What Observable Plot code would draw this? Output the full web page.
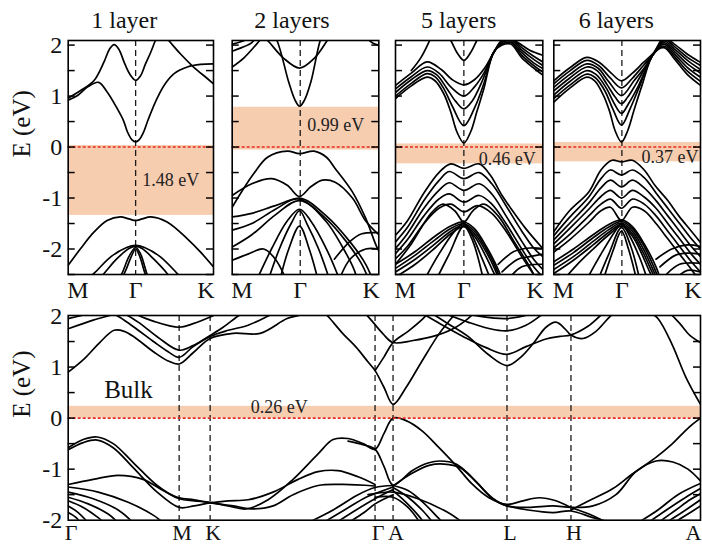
<!DOCTYPE html>
<html><head><meta charset="utf-8">
<script src="https://cdn.jsdelivr.net/npm/d3@7"></script>
<script src="https://cdn.jsdelivr.net/npm/@observablehq/plot@0.6"></script>
<style>
html,body{margin:0;padding:0;background:#fff;}
#chart{position:relative;width:702px;height:546px;overflow:hidden;background:#fff;}
#chart svg{position:absolute;left:0;top:0;}
</style></head><body><div id="chart"></div>
<script>
// ---------- data ----------
const layerTitles = ["1 layer", "2 layers", "5 layers", "6 layers"];
const gapLabels = ["1.48 eV", "0.99 eV", "0.46 eV", "0.37 eV"];
const bulkGapLabel = "0.26 eV";
const gapRanges = [[-1.34, 0.03], [-0.06, 0.78], [-0.33, 0.06], [-0.29, 0.09]];
const bulkGapRange = [0, 0.23];
const slabKPoints = [{k: 0, name: "M"}, {k: 0.866, name: "Γ"}, {k: 1.866, name: "K"}];
const bulkKPoints = [
  {k: 0, name: "Γ"}, {k: 111, name: "M"}, {k: 142, name: "K"}, {k: 307, name: "Γ"},
  {k: 325, name: "A"}, {k: 439, name: "L"}, {k: 503, name: "H"}, {k: 632.6, name: "A"}
];
const energyTicks = [-2, -1, 0, 1, 2];
const minorTicksSlab = [-2.5, -2, -1.5, -1, -0.5, 0, 0.5, 1, 1.5, 2];
const minorTicksBulk = [-1.5, -1, -0.5, 0, 0.5, 1, 1.5];

const layer1Bands = [
  [[0,0.92],[0.12,1.01],[0.25,1.18],[0.39,1.27],[0.5,1.08],[0.62,0.78],[0.71,0.52],[0.76,0.3],[0.82,0.14],[0.866,0.1],[0.91,0.14],[0.97,0.3],[1.03,0.55],[1.14,0.95],[1.25,1.25],[1.36,1.44],[1.53,1.57],[1.7,1.62],[1.866,1.63]],
  [[0,0.96],[0.16,1.11],[0.33,1.3],[0.46,1.67],[0.53,1.92],[0.59,2.01],[0.65,1.92],[0.73,1.62],[0.8,1.41],[0.866,1.31],[0.93,1.4],[0.99,1.62],[1.06,1.86],[1.12,2.09],[1.16,2.2]],
  [[1.22,2.2],[1.29,2.09],[1.44,1.83],[1.61,1.57],[1.79,1.34],[1.866,1.24]],
  [[0,-2.32],[0.16,-1.99],[0.33,-1.67],[0.5,-1.44],[0.67,-1.37],[0.78,-1.41],[0.866,-1.44],[0.95,-1.41],[1.06,-1.37],[1.27,-1.47],[1.53,-1.8],[1.7,-2.06],[1.866,-2.35]],
  [[0.2,-2.65],[0.33,-2.48],[0.55,-2.15],[0.75,-1.97],[0.866,-1.93],[0.98,-1.97],[1.18,-2.15],[1.4,-2.48],[1.5,-2.65]],
  [[0.35,-2.65],[0.46,-2.48],[0.62,-2.2],[0.78,-1.99],[0.866,-1.95],[0.95,-1.99],[1.1,-2.2],[1.27,-2.48],[1.35,-2.65]],
  [[0.62,-2.65],[0.69,-2.48],[0.78,-2.15],[0.866,-1.97],[0.93,-2.1],[1.01,-2.48],[1.06,-2.65]],
  [[0.66,-2.65],[0.73,-2.45],[0.81,-2.15],[0.866,-2.0],[0.92,-2.15],[0.98,-2.45],[1.03,-2.65]]
];

const layer2Bands = [
  [[0.45,2.4],[0.57,2.09],[0.72,1.27],[0.8,0.92],[0.857,0.8],[0.92,0.92],[1.0,1.27],[1.12,2.09],[1.2,2.4]],
  [[0.3,2.3],[0.45,2.09],[0.65,1.75],[0.857,1.55],[1.05,1.75],[1.21,2.09],[1.3,2.3]],
  [[0,1.57],[0.15,1.75],[0.3,2.0],[0.38,2.15]],
  [[0,1.88],[0.12,1.95],[0.25,2.05],[0.3,2.15]],
  [[0,2.02],[0.1,2.06],[0.2,2.12]],
  [[1.7,2.15],[1.8,2.03],[1.866,2.0]],
  [[0,-1.18],[0.106,-0.91],[0.275,-0.52],[0.45,-0.2],[0.7,-0.08],[0.857,-0.13],[1.04,-0.08],[1.2,-0.2],[1.31,-0.42],[1.53,-0.88],[1.7,-1.4],[1.85,-1.99],[1.9,-2.1]],
  [[0,-0.95],[0.25,-0.72],[0.5,-0.62],[0.7,-0.75],[0.857,-0.97],[1.0,-0.78],[1.15,-0.65],[1.31,-0.69],[1.53,-1.0],[1.7,-1.45],[1.866,-1.72]],
  [[0,-1.63],[0.25,-1.5],[0.55,-1.22],[0.857,-1.0],[1.19,-1.34],[1.5,-1.86],[1.7,-2.3],[1.8,-2.65]],
  [[0,-1.96],[0.25,-1.72],[0.55,-1.33],[0.857,-1.05],[1.19,-1.4],[1.45,-1.85],[1.65,-2.3],[1.75,-2.65]],
  [[0,-1.37],[0.25,-1.3],[0.55,-1.15],[0.857,-1.02],[1.19,-1.45],[1.4,-1.95],[1.55,-2.4],[1.6,-2.65]],
  [[0.3,-2.65],[0.5,-2.0],[0.7,-1.45],[0.857,-1.22],[1.0,-1.45],[1.2,-2.0],[1.38,-2.65]],
  [[0.45,-2.65],[0.6,-2.0],[0.75,-1.5],[0.857,-1.25],[0.95,-1.5],[1.1,-2.0],[1.25,-2.65]],
  [[0.6,-2.65],[0.72,-2.0],[0.857,-1.55],[0.98,-2.0],[1.1,-2.65]],
  [[0,-2.22],[0.2,-2.1],[0.4,-2.0],[0.55,-2.2],[0.7,-2.65]],
  [[1.3,-2.2],[1.5,-1.85],[1.65,-1.7],[1.866,-1.68]],
  [[1.35,-2.65],[1.5,-2.2],[1.7,-2.0],[1.866,-2.0]]
];

const layer5Bands = [
  [[0,0.95],[0.2,1.2],[0.4,1.37],[0.5,1.3],[0.61,1.05],[0.7,0.69],[0.78,0.29],[0.866,0.08],[0.95,0.29],[1.03,0.69],[1.12,1.15],[1.245,1.86],[1.35,2.0],[1.46,2.02],[1.6,1.75],[1.75,1.55],[1.866,1.41]],
  [[0,1.0],[0.2,1.25],[0.4,1.44],[0.5,1.38],[0.61,1.15],[0.72,0.8],[0.866,0.42],[1.01,0.8],[1.12,1.25],[1.245,1.86],[1.35,2.02],[1.46,2.05],[1.6,1.8],[1.75,1.6],[1.866,1.47]],
  [[0,1.07],[0.2,1.32],[0.4,1.5],[0.52,1.42],[0.65,1.15],[0.76,0.9],[0.866,0.75],[0.97,0.9],[1.1,1.3],[1.245,1.86],[1.35,2.05],[1.46,2.08],[1.6,1.85],[1.75,1.65],[1.866,1.54]],
  [[0,1.14],[0.2,1.38],[0.4,1.57],[0.55,1.45],[0.7,1.18],[0.866,1.0],[1.0,1.18],[1.12,1.45],[1.245,1.86],[1.35,2.08],[1.46,2.12],[1.6,1.9],[1.75,1.72],[1.866,1.6]],
  [[0,1.21],[0.2,1.45],[0.4,1.67],[0.58,1.52],[0.72,1.32],[0.866,1.22],[1.0,1.32],[1.13,1.55],[1.245,1.86],[1.35,2.1],[1.46,2.15],[1.6,1.95],[1.75,1.78],[1.866,1.67]],
  [[0.6,2.3],[0.7,2.09],[0.78,1.85],[0.866,1.7],[0.95,1.85],[1.03,2.09],[1.1,2.3]],
  [[0.2,1.5],[0.32,1.75],[0.42,2.05],[0.46,2.2]],
  [[1.4,2.15],[1.55,2.05],[1.7,1.9],[1.866,1.8]],
  [[0,-1.73],[0.15,-1.45],[0.36,-0.9],[0.55,-0.5],[0.7,-0.33],[0.866,-0.42],[1.06,-0.33],[1.2,-0.55],[1.35,-0.95],[1.46,-1.2],[1.65,-1.6],[1.866,-1.99]],
  [[0,-1.86],[0.15,-1.58],[0.36,-1.05],[0.55,-0.66],[0.68,-0.48],[0.866,-0.62],[1.06,-0.5],[1.22,-0.72],[1.4,-1.15],[1.6,-1.65],[1.75,-1.98],[1.866,-2.15]],
  [[0,-1.99],[0.15,-1.7],[0.36,-1.2],[0.55,-0.85],[0.68,-0.7],[0.866,-0.85],[1.06,-0.72],[1.22,-0.92],[1.4,-1.35],[1.6,-1.85],[1.75,-2.2],[1.866,-2.4]],
  [[0,-2.09],[0.15,-1.82],[0.36,-1.35],[0.55,-1.02],[0.68,-0.92],[0.866,-1.08],[1.06,-0.95],[1.22,-1.12],[1.4,-1.5],[1.6,-2.0],[1.75,-2.35],[1.866,-2.55]],
  [[0,-2.19],[0.15,-1.95],[0.36,-1.5],[0.55,-1.2],[0.7,-1.12],[0.866,-1.27],[1.04,-1.15],[1.22,-1.3],[1.4,-1.65],[1.6,-2.15],[1.75,-2.5],[1.85,-2.7]],
  [[0,-2.3],[0.2,-1.9],[0.45,-1.3],[0.6,-1.12],[0.75,-1.25],[0.866,-1.47],[0.98,-1.25],[1.12,-1.12],[1.3,-1.35],[1.5,-1.85],[1.7,-2.35],[1.8,-2.65]],
  [[0,-2.3],[0.25,-2.05],[0.5,-1.75],[0.7,-1.55],[0.866,-1.47],[1.0,-1.6],[1.15,-1.95],[1.3,-2.4],[1.36,-2.65]],
  [[0,-2.38],[0.25,-2.12],[0.5,-1.82],[0.7,-1.6],[0.866,-1.5],[1.0,-1.65],[1.15,-2.0],[1.28,-2.4],[1.34,-2.65]],
  [[0,-2.45],[0.25,-2.2],[0.5,-1.9],[0.7,-1.65],[0.866,-1.53],[1.0,-1.7],[1.15,-2.06],[1.26,-2.4],[1.32,-2.65]],
  [[0,-2.55],[0.25,-2.3],[0.5,-1.98],[0.7,-1.7],[0.866,-1.56],[1.0,-1.75],[1.13,-2.1],[1.24,-2.45],[1.3,-2.65]],
  [[0.35,-2.65],[0.55,-2.1],[0.75,-1.65],[0.866,-1.5],[0.96,-1.7],[1.1,-2.2],[1.22,-2.65]],
  [[0.5,-2.65],[0.68,-2.1],[0.866,-1.55],[0.98,-1.85],[1.12,-2.65]],
  [[1.3,-2.3],[1.5,-2.05],[1.7,-1.98],[1.866,-1.99]],
  [[1.35,-2.45],[1.55,-2.2],[1.7,-2.15],[1.866,-2.1]],
  [[1.4,-2.65],[1.6,-2.35],[1.866,-2.3]]
];

const layer6Bands = [
  [[0,0.88],[0.2,1.15],[0.42,1.37],[0.52,1.3],[0.63,1.02],[0.71,0.7],[0.78,0.32],[0.861,0.1],[0.94,0.32],[1.02,0.72],[1.12,1.2],[1.27,1.83],[1.4,1.95],[1.55,1.7],[1.7,1.42],[1.866,1.21]],
  [[0,0.95],[0.2,1.21],[0.42,1.43],[0.53,1.36],[0.65,1.1],[0.75,0.75],[0.861,0.43],[0.97,0.75],[1.08,1.15],[1.27,1.83],[1.4,1.98],[1.55,1.75],[1.7,1.49],[1.866,1.29]],
  [[0,1.02],[0.2,1.28],[0.42,1.5],[0.54,1.42],[0.67,1.15],[0.77,0.85],[0.861,0.66],[0.95,0.85],[1.06,1.15],[1.27,1.83],[1.4,2.02],[1.55,1.8],[1.7,1.56],[1.866,1.37]],
  [[0,1.1],[0.2,1.35],[0.42,1.57],[0.55,1.5],[0.68,1.22],[0.78,0.98],[0.861,0.85],[0.94,0.98],[1.05,1.25],[1.27,1.83],[1.4,2.05],[1.55,1.85],[1.7,1.63],[1.866,1.45]],
  [[0,1.17],[0.2,1.42],[0.42,1.63],[0.56,1.55],[0.7,1.28],[0.861,1.01],[1.02,1.3],[1.15,1.55],[1.27,1.83],[1.4,2.08],[1.55,1.9],[1.7,1.7],[1.866,1.52]],
  [[0,1.24],[0.2,1.49],[0.42,1.7],[0.57,1.6],[0.72,1.35],[0.861,1.16],[1.0,1.35],[1.14,1.6],[1.27,1.83],[1.4,2.11],[1.55,1.95],[1.7,1.76],[1.866,1.6]],
  [[0,1.3],[0.2,1.55],[0.42,1.76],[0.58,1.66],[0.73,1.45],[0.861,1.3],[1.0,1.45],[1.14,1.66],[1.27,1.85],[1.4,2.14],[1.55,2.0],[1.7,1.82],[1.866,1.66]],
  [[0,-1.66],[0.2,-1.25],[0.445,-0.88],[0.6,-0.45],[0.74,-0.26],[0.861,-0.29],[1.0,-0.26],[1.15,-0.45],[1.29,-0.76],[1.45,-1.05],[1.59,-1.35],[1.75,-1.65],[1.866,-1.87]],
  [[0,-1.74],[0.2,-1.38],[0.445,-0.98],[0.6,-0.62],[0.72,-0.45],[0.861,-0.55],[1.0,-0.45],[1.15,-0.6],[1.3,-0.9],[1.45,-1.2],[1.6,-1.5],[1.75,-1.8],[1.866,-2.0]],
  [[0,-1.82],[0.2,-1.5],[0.445,-1.1],[0.6,-0.8],[0.72,-0.65],[0.861,-0.78],[1.0,-0.65],[1.15,-0.8],[1.3,-1.05],[1.45,-1.35],[1.6,-1.65],[1.75,-1.95],[1.866,-2.15]],
  [[0,-1.9],[0.2,-1.6],[0.445,-1.22],[0.6,-0.97],[0.72,-0.85],[0.861,-1.0],[1.0,-0.85],[1.15,-0.98],[1.3,-1.2],[1.45,-1.5],[1.6,-1.8],[1.75,-2.1],[1.866,-2.3]],
  [[0,-1.98],[0.2,-1.72],[0.445,-1.35],[0.6,-1.12],[0.72,-1.02],[0.861,-1.2],[1.0,-1.02],[1.15,-1.12],[1.3,-1.35],[1.45,-1.65],[1.6,-1.95],[1.75,-2.25],[1.866,-2.45]],
  [[0,-2.06],[0.2,-1.82],[0.445,-1.48],[0.6,-1.25],[0.72,-1.18],[0.861,-1.44],[1.0,-1.18],[1.15,-1.25],[1.3,-1.5],[1.45,-1.8],[1.6,-2.1],[1.75,-2.4],[1.866,-2.65]],
  [[0,-2.25],[0.25,-2.0],[0.5,-1.72],[0.7,-1.52],[0.861,-1.43],[1.0,-1.56],[1.15,-1.9],[1.3,-2.35],[1.37,-2.65]],
  [[0,-2.32],[0.25,-2.07],[0.5,-1.78],[0.7,-1.57],[0.861,-1.46],[1.0,-1.6],[1.15,-1.95],[1.28,-2.38],[1.35,-2.65]],
  [[0,-2.4],[0.25,-2.15],[0.5,-1.85],[0.7,-1.62],[0.861,-1.49],[1.0,-1.65],[1.14,-2.0],[1.26,-2.4],[1.33,-2.65]],
  [[0,-2.48],[0.25,-2.22],[0.5,-1.92],[0.7,-1.67],[0.861,-1.52],[1.0,-1.7],[1.13,-2.05],[1.24,-2.42],[1.31,-2.65]],
  [[0.1,-2.65],[0.3,-2.3],[0.5,-2.0],[0.7,-1.72],[0.861,-1.55],[1.0,-1.75],[1.12,-2.1],[1.22,-2.45],[1.29,-2.65]],
  [[0.4,-2.65],[0.6,-2.1],[0.78,-1.65],[0.861,-1.5],[0.95,-1.7],[1.1,-2.2],[1.2,-2.65]],
  [[0.55,-2.65],[0.7,-2.1],[0.861,-1.58],[0.98,-1.95],[1.1,-2.65]],
  [[0.62,-2.65],[0.75,-2.05],[0.861,-1.65],[0.95,-2.0],[1.06,-2.65]],
  [[1.3,-2.2],[1.5,-2.0],[1.7,-1.92],[1.866,-1.95]],
  [[1.35,-2.35],[1.55,-2.12],[1.7,-2.08],[1.866,-2.1]],
  [[1.4,-2.55],[1.6,-2.3],[1.866,-2.28]],
  [[1.5,-2.65],[1.7,-2.42],[1.866,-2.45]]
];

const bulkBands = [
  [[0,0.9],[16,1.16],[32,1.49],[46,1.72],[56,1.7],[66,1.59],[86,1.29],[100,1.12],[111,1.06],[125,1.28],[142,1.56],[165,1.66],[192,1.66],[219,1.95],[232,2.02],[240,2.1]],
  [[40,2.1],[52,1.97],[66,1.78],[86,1.49],[100,1.3],[111,1.19],[125,1.4],[142,1.6],[160,1.72],[180,1.82],[200,2.0],[210,2.1]],
  [[50,2.12],[70,1.88],[90,1.58],[111,1.33],[125,1.42],[142,1.62],[155,1.78],[170,2.0],[178,2.1]],
  [[60,2.1],[85,1.9],[111,1.78],[125,1.85],[142,1.98],[155,2.1]],
  [[0,1.75],[25,1.92],[45,2.03],[55,2.1]],
  [[0,1.95],[15,2.02],[25,2.1]],
  [[255,2.1],[261,1.97],[275,1.65],[288,1.39],[300,1.1],[307,0.93],[316,0.6],[325,0.27],[338,0.6],[354,1.12],[371,1.65],[384,1.97],[390,2.1]],
  [[307,0.93],[316,1.2],[325,1.48],[340,1.7],[355,1.95],[362,2.1]],
  [[295,2.1],[304,1.9],[315,1.65],[325,1.48],[345,1.52],[365,1.6],[385,1.75],[400,1.95],[408,2.1]],
  [[360,2.1],[380,1.85],[400,1.6],[420,1.25],[439,1.03],[452,1.18],[466,1.48],[478,1.78],[488,1.88],[497,1.75],[503,1.63],[515,1.56],[528,1.7],[540,1.95],[548,2.1]],
  [[350,2.1],[372,1.85],[395,1.6],[418,1.38],[439,1.25],[458,1.4],[478,1.55],[492,1.6],[503,1.63],[520,1.8],[532,2.0],[538,2.1]],
  [[370,2.1],[400,1.88],[420,1.76],[439,1.71],[458,1.82],[472,2.0],[478,2.1]],
  [[380,2.12],[410,2.0],[439,1.95],[465,2.05],[475,2.12]],
  [[580,2.1],[590,1.95],[604,1.45],[618,0.8],[632.6,0.27]],
  [[600,2.1],[612,1.85],[622,1.62],[632.6,1.48]],
  [[0,-0.58],[15,-0.42],[29,-0.37],[45,-0.5],[65,-0.87],[89,-1.32],[111,-1.58],[126,-1.62],[142,-1.65],[160,-1.72],[178,-1.78],[200,-1.6],[225,-1.2],[250,-0.7],[265,-0.42],[280,-0.4],[295,-0.5],[307,-0.61],[316,-0.3],[325,0],[338,-0.05],[354,-0.25],[371,-0.58],[388,-0.93],[404,-1.29],[421,-1.56],[439,-1.69],[455,-1.62],[471,-1.56],[488,-1.62],[503,-1.75],[521,-1.88],[540,-2.05],[548,-2.1]],
  [[280,-0.45],[295,-0.52],[307,-0.61],[316,-0.95],[325,-1.31],[344,-1.03],[360,-0.88],[372,-0.84],[388,-0.9],[404,-1.16],[424,-1.56],[439,-1.72],[460,-1.75],[485,-1.72],[503,-1.75],[525,-1.72],[548,-1.5],[568,-1.05],[588,-0.84],[605,-0.86],[620,-1.0],[632.6,-1.23]],
  [[0,-0.62],[15,-0.48],[29,-0.43],[45,-0.58],[65,-0.97],[89,-1.45],[111,-1.75],[126,-1.72],[142,-1.66],[160,-1.62],[180,-1.6],[205,-1.45],[230,-1.2],[250,-1.05],[270,-1.03],[290,-1.15],[307,-1.3]],
  [[0,-1.3],[25,-1.2],[50,-1.12],[75,-1.2],[95,-1.42],[111,-1.56],[126,-1.6],[142,-1.66],[165,-1.72],[185,-1.78],[205,-1.72],[225,-1.5],[250,-1.32],[275,-1.3],[307,-1.33]],
  [[503,-1.8],[521,-1.62],[545,-1.38],[564,-1.1],[588,-0.77],[604,-0.51],[621,-0.18],[632.6,0]],
  [[325,-1.33],[344,-1.08],[362,-0.92],[376,-0.9],[392,-0.97],[408,-1.25],[426,-1.6],[439,-1.72]],
  [[439,-1.72],[460,-1.8],[485,-1.85],[503,-1.82],[525,-1.95],[545,-2.05],[560,-2.1]],
  [[0,-1.35],[30,-1.45],[60,-1.65],[85,-1.9],[95,-2.05]],
  [[0,-1.45],[25,-1.58],[50,-1.8],[65,-2.05]],
  [[0,-1.55],[20,-1.68],[40,-1.88],[50,-2.05]],
  [[0,-1.62],[15,-1.75],[30,-1.95],[36,-2.05]],
  [[0,-1.72],[10,-1.85],[20,-2.05]],
  [[0,-1.85],[8,-1.95],[12,-2.05]],
  [[240,-2.05],[265,-1.8],[290,-1.5],[307,-1.36],[325,-1.32]],
  [[255,-2.05],[278,-1.78],[298,-1.55],[307,-1.48],[325,-1.35]],
  [[268,-2.05],[288,-1.8],[307,-1.58],[325,-1.4]],
  [[280,-2.05],[296,-1.85],[307,-1.68],[325,-1.5]],
  [[325,-1.32],[340,-1.42],[355,-1.65],[370,-1.95],[375,-2.05]],
  [[325,-1.36],[340,-1.55],[355,-1.82],[365,-2.05]],
  [[325,-1.42],[338,-1.65],[350,-1.9],[356,-2.05]],
  [[307,-1.55],[325,-1.55],[340,-1.75],[352,-2.05]],
  [[300,-1.5],[325,-1.45],[350,-1.58],[380,-1.85],[395,-2.05]],
  [[570,-2.05],[590,-1.8],[610,-1.5],[632.6,-1.28]],
  [[580,-2.05],[600,-1.78],[618,-1.55],[632.6,-1.38]],
  [[590,-2.05],[608,-1.8],[622,-1.6],[632.6,-1.48]],
  [[598,-2.05],[614,-1.85],[632.6,-1.6]],
  [[606,-2.05],[620,-1.88],[632.6,-1.72]]
];

// ---------- rendering ----------
const W = 702, H = 546;
const FONT = "'Liberation Serif', 'Times New Roman', serif";
const GAPFONT = "'Liberation Serif', serif";
const ORANGE = "#f7cdb0";
const RED = "#e52b1f";

function panel(cfg) {
  const [l, r, t, b] = cfg.frame;
  const w = r - l;
  const data = cfg.bands.flatMap((pts, i) => pts.map(([k, E]) => ({k, E, band: i})));
  const pts = cfg.kpoints;
  const inner = pts.filter((d, i) => !(cfg.alignEdges && (i === 0)) && i !== pts.length - 1);
  const first = cfg.alignEdges ? [pts[0]] : [];
  const last = [pts[pts.length - 1]];
  const vlines = pts.slice(1, -1).map(d => d.k);
  const lab = {frameAnchor: "bottom", lineAnchor: "middle", dy: cfg.labelDy, fontSize: cfg.labelSize, fontFamily: FONT, fill: "#111"};
  const marks = [
    Plot.rect([cfg.gap], {y1: d => d[0], y2: d => d[1], fill: ORANGE}),
    Plot.ruleX(vlines, {stroke: "#1a1a1a", strokeWidth: 1.3, strokeDasharray: "6,4"}),
    Plot.line(data, {x: "k", y: "E", z: "band", curve: "catmull-rom", stroke: "#000", strokeWidth: 1.7, clip: true}),
    Plot.ruleY([0], {stroke: RED, strokeWidth: 1.6, strokeDasharray: "3,2"}),
    Plot.tickY(cfg.minor, {y: d => d, insetRight: w - 7, strokeWidth: 1.5}),
    Plot.tickY(cfg.minor, {y: d => d, insetLeft: w - 7, strokeWidth: 1.5}),
    Plot.frame({stroke: "#000", strokeWidth: 1.6}),
    Plot.text(inner, {x: "k", text: "name", dx: cfg.labelDx, ...lab}),
    Plot.text(first, {x: "k", text: "name", textAnchor: "start", dx: -1, ...lab}),
    Plot.text(last, {x: "k", text: "name", textAnchor: "end", dx: 1, ...lab}),
    Plot.text([cfg.gapLabel], {x: cfg.gapPos[0], y: cfg.gapPos[1], text: d => d, textAnchor: cfg.gapAnchor || "start", dx: cfg.gapAnchor === "end" ? -2 : 0, fontSize: 18, fontFamily: GAPFONT, fill: "#222"})
  ];
  if (cfg.title) {
    marks.push(Plot.text([cfg.title], {x: cfg.titleK, frameAnchor: "top", lineAnchor: "middle", dy: -20, text: d => d, fontSize: 24, fontFamily: FONT, fill: "#111"}));
  }
  if (cfg.yLabels) {
    marks.push(Plot.text(energyTicks, {y: d => d, frameAnchor: "left", dx: -6, textAnchor: "end", text: d => String(d), fontSize: 24, fontFamily: FONT, fill: "#111"}));
    marks.push(Plot.text(["E (eV)"], {frameAnchor: "left", dx: -46, rotate: -90, text: d => d, fontSize: 25, fontFamily: FONT, fill: "#111"}));
  }
  if (cfg.extraText) {
    marks.push(Plot.text([cfg.extraText.text], {x: cfg.extraText.pos[0], y: cfg.extraText.pos[1], text: d => d, textAnchor: "start", fontSize: 25, fontFamily: FONT, fill: "#111"}));
  }
  return Plot.plot({
    width: W, height: H,
    marginLeft: l, marginRight: W - r, marginTop: t, marginBottom: H - b,
    x: {domain: cfg.xDomain, axis: null},
    y: {domain: cfg.yDomain, axis: null},
    style: {background: "transparent", overflow: "visible"},
    marks
  });
}

const chart = document.getElementById("chart");
const slabFrames = [[67.7, 213, 40, 274], [231.7, 378.3, 40, 274], [395, 542.3, 40, 274], [553.3, 700, 40, 274]];
const slabBands = [layer1Bands, layer2Bands, layer5Bands, layer6Bands];
const titleKs = [0.72, 0.76, 0.8, 0.795];
const gapPos = [[0.95, -0.65], [0.955, 0.43], [1.055, -0.24], [1.866, -0.2]];
slabBands.forEach((bands, i) => {
  chart.appendChild(panel({
    frame: slabFrames[i], bands, kpoints: slabKPoints, alignEdges: true,
    xDomain: [0, 1.866], yDomain: [-2.5, 2.09], minor: minorTicksSlab,
    gap: gapRanges[i], gapLabel: gapLabels[i], gapPos: gapPos[i], gapAnchor: i === 3 ? "end" : "start",
    title: layerTitles[i], titleK: titleKs[i], yLabels: i === 0,
    labelDy: 16, labelDx: 0, labelSize: 24
  }));
});
chart.appendChild(panel({
  frame: [67.7, 700, 315, 519.7], bands: bulkBands, kpoints: bulkKPoints, alignEdges: false,
  xDomain: [0, 632.6], yDomain: [-2, 2.01], minor: minorTicksBulk,
  gap: bulkGapRange, gapLabel: bulkGapLabel, gapPos: [182.6, 0.21],
  yLabels: true, labelDy: 13, labelDx: 3, labelSize: 22,
  extraText: {text: "Bulk", pos: [36, 0.55]}
}));
</script>
</body></html>
